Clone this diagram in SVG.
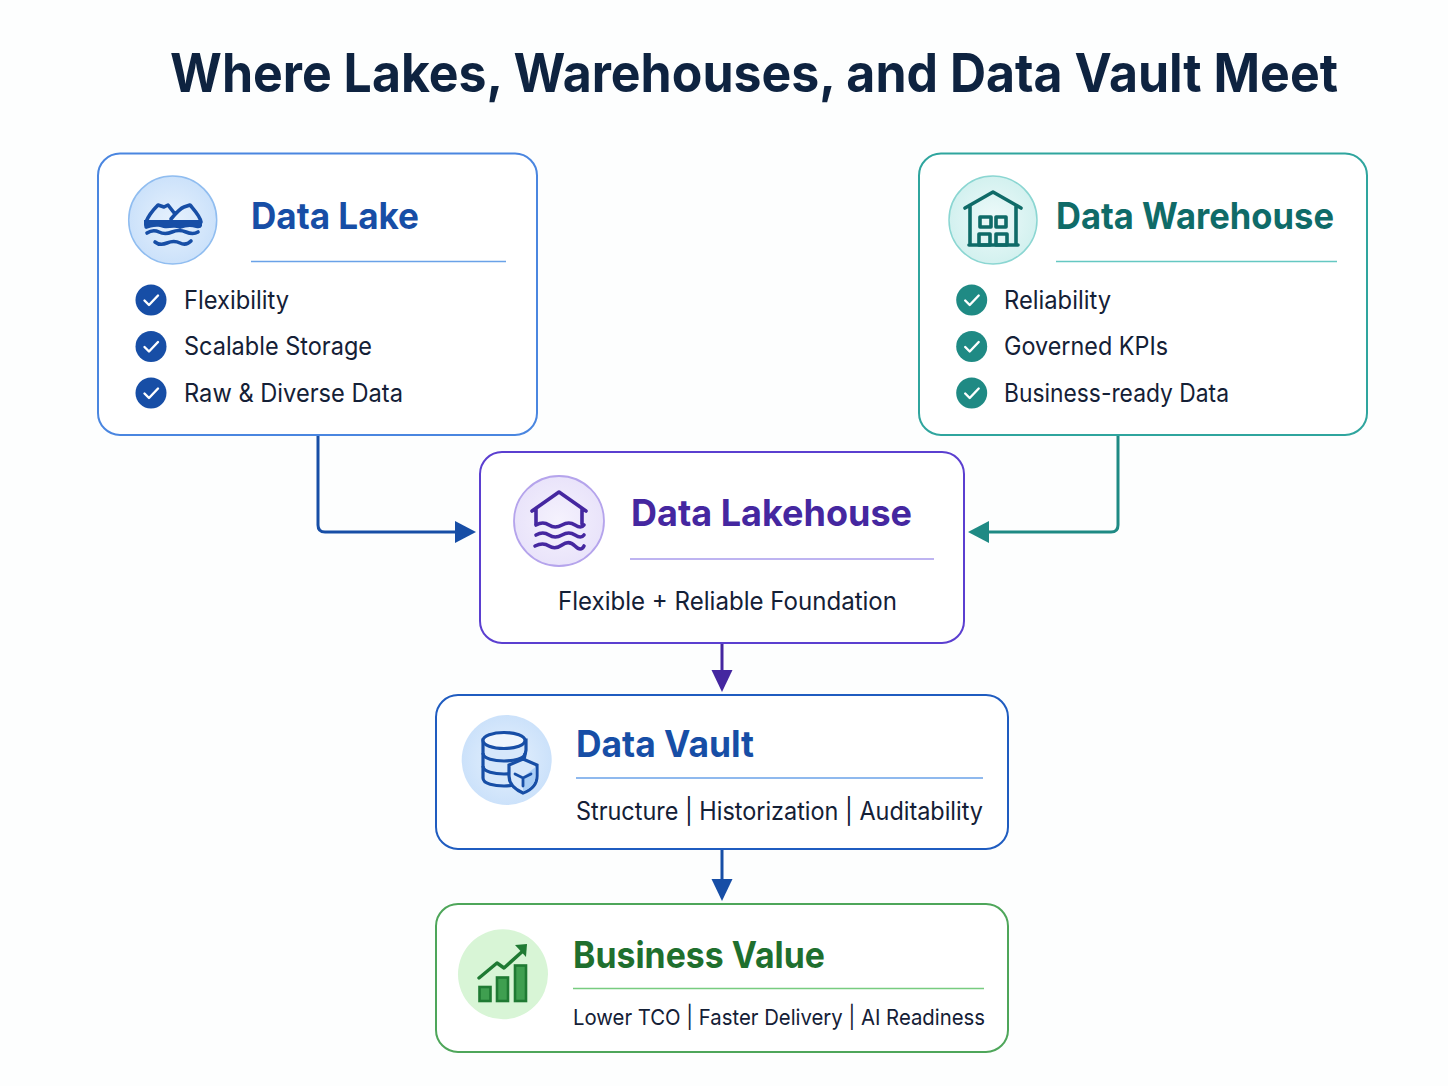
<svg xmlns="http://www.w3.org/2000/svg" width="1448" height="1086" viewBox="0 0 1448 1086">
<style>
text{font-family:"Inter","Noto Sans","Liberation Sans",sans-serif}
.title{font-size:54px;font-weight:700;fill:#0e2340}
.h{font-size:37px;font-weight:700}
.b{font-size:25px;font-weight:400;fill:#142036}
.card{fill:#fff;stroke-width:2}
.icon{fill:none;stroke-width:3.600;stroke-linecap:round;stroke-linejoin:round}
.conn{fill:none;stroke-width:3;stroke-linejoin:round}
.tick{fill:none;stroke:#fff;stroke-width:2.400;stroke-linecap:round;stroke-linejoin:round}
</style>
<defs>
<radialGradient id="gb" cx=".5" cy=".5" r=".55"><stop offset="0" stop-color="#e6f1fd"/><stop offset="1" stop-color="#c9e0fa"/></radialGradient>
<radialGradient id="gt" cx=".5" cy=".5" r=".55"><stop offset="0" stop-color="#eefafa"/><stop offset="1" stop-color="#d0f0ee"/></radialGradient>
<radialGradient id="gp" cx=".5" cy=".5" r=".55"><stop offset="0" stop-color="#f5f2fd"/><stop offset="1" stop-color="#e8e2fa"/></radialGradient>
<g id="tk"><path class="tick" d="M-6.500 0.500L-2 5L7 -4.500"/></g>
</defs>
<rect width="1448" height="1086" fill="#fdfefe"/>
<text class="title" x="170" y="92" textLength="1168" lengthAdjust="spacingAndGlyphs">Where Lakes, Warehouses, and Data Vault Meet</text>

<g id="connectors">
<path class="conn" stroke="#174ea6" d="M318 435V525Q318 532 325 532H456"/>
<path fill="#174ea6" d="M455 521L476 532L455 543Z"/>
<path class="conn" stroke="#1f8a84" d="M1118 435V525Q1118 532 1111 532H988"/>
<path fill="#1f8a84" d="M989 521L968 532L989 543Z"/>
<path class="conn" stroke="#4527a0" d="M722 643V671"/>
<path fill="#4527a0" d="M711.500 670H732.500L722 692Z"/>
<path class="conn" stroke="#174ea6" d="M722 849V880"/>
<path fill="#174ea6" d="M711.500 879H732.500L722 901Z"/>
</g>

<g id="data-lake">
<rect class="card" x="98" y="153.500" width="439" height="281.500" rx="22" stroke="#4a86e0"/>
<circle cx="172.700" cy="220" r="44" fill="url(#gb)" stroke="#90bdf0" stroke-width="1.500"/>
<path class="icon" stroke="#174ea6" d="M146 222C149 214 154 209 158 205L164 207L168 205L175 214M171 219C176 213 181 208 184 207L190 205C195 211 200 216 201 222"/>
<path fill="#174ea6" d="M144 220H202V226Q201 229 196 228C190 226 186 227 180 229C172 226 168 230 160 227C154 226 150 228 146 229Q144 228 144 225Z"/>
<path class="icon" stroke="#174ea6" d="M147 233Q153 229 159 232T172 232T186 232T198 232"/>
<path class="icon" stroke="#174ea6" stroke-width="4" d="M155 242Q160 246 167 243T180 243T191 241"/>
<text class="h" x="251" y="229" fill="#174ea6" textLength="168" lengthAdjust="spacingAndGlyphs">Data Lake</text>
<path d="M251 261.500H506" stroke="#6aa2e8" stroke-width="1.600"/>
<circle cx="151" cy="300" r="15.500" fill="#174ea6"/><use href="#tk" x="151" y="300"/>
<text class="b" x="184" y="308.500" textLength="105" lengthAdjust="spacingAndGlyphs">Flexibility</text>
<circle cx="151" cy="346.500" r="15.500" fill="#174ea6"/><use href="#tk" x="151" y="346.500"/>
<text class="b" x="184" y="355" textLength="188" lengthAdjust="spacingAndGlyphs">Scalable Storage</text>
<circle cx="151" cy="393" r="15.500" fill="#174ea6"/><use href="#tk" x="151" y="393"/>
<text class="b" x="184" y="401.500" textLength="219" lengthAdjust="spacingAndGlyphs">Raw &amp; Diverse Data</text>
</g>

<g id="data-warehouse">
<rect class="card" x="919" y="153.500" width="448" height="281.500" rx="22" stroke="#2fa59e"/>
<circle cx="993" cy="220" r="44" fill="url(#gt)" stroke="#8bd6d2" stroke-width="1.500"/>
<path class="icon" stroke="#0f6b68" d="M965 208L993 192L1021 208M970 205V245M1016 205V245M969 245H1018"/>
<path class="icon" stroke="#0f6b68" stroke-width="3" d="M980 217H991V227H980ZM996 217H1006V227H996ZM979 234H990V245H979ZM996 234H1007V245H996Z"/>
<text class="h" x="1056" y="229" fill="#0f6b68" textLength="278" lengthAdjust="spacingAndGlyphs">Data Warehouse</text>
<path d="M1056 261.500H1337" stroke="#65c8c2" stroke-width="1.600"/>
<circle cx="971.700" cy="300" r="15.500" fill="#1f8a84"/><use href="#tk" x="971.700" y="300"/>
<text class="b" x="1004" y="308.500" textLength="107" lengthAdjust="spacingAndGlyphs">Reliability</text>
<circle cx="971.700" cy="346.500" r="15.500" fill="#1f8a84"/><use href="#tk" x="971.700" y="346.500"/>
<text class="b" x="1004" y="355" textLength="164" lengthAdjust="spacingAndGlyphs">Governed KPIs</text>
<circle cx="971.700" cy="393" r="15.500" fill="#1f8a84"/><use href="#tk" x="971.700" y="393"/>
<text class="b" x="1004" y="401.500" textLength="225" lengthAdjust="spacingAndGlyphs">Business-ready Data</text>
</g>

<g id="data-lakehouse">
<rect class="card" x="480" y="452" width="484" height="191" rx="22" stroke="#5b3fd0"/>
<circle cx="559" cy="521" r="45" fill="url(#gp)" stroke="#b5a4ec" stroke-width="1.800"/>
<path class="icon" stroke="#4527a0" d="M532 511L559 492L586 511M536 509V524M582 509V524"/>
<path class="icon" stroke="#4527a0" d="M536 525Q543 521 549 525T562 525T575 525T584 525"/>
<path class="icon" stroke="#4527a0" d="M536 535Q543 531 549 535T562 535T575 535T584 535"/>
<path class="icon" stroke="#4527a0" stroke-width="4" d="M535 546Q543 542 549 546T562 545T575 546T584 546"/>
<text class="h" x="631" y="526" fill="#4527a0" textLength="281" lengthAdjust="spacingAndGlyphs">Data Lakehouse</text>
<path d="M630 559H934" stroke="#a99bec" stroke-width="1.600"/>
<text class="b" x="558" y="610" textLength="339" lengthAdjust="spacingAndGlyphs">Flexible + Reliable Foundation</text>
</g>

<g id="data-vault">
<rect class="card" x="436" y="695" width="572" height="154" rx="22" stroke="#1f5cc0"/>
<circle cx="506.700" cy="760" r="45" fill="url(#gb)"/>
<g stroke="#174ea6" stroke-width="3.200" fill="#d6e7fb">
<path d="M483 740V778C483 784 495 786 504 786C510 786 515 785 519 784L526 750V740Z"/>
<ellipse cx="504" cy="740.500" rx="21" ry="8" fill="#eef5fd"/>
<path fill="none" d="M483 753C483 759 495 761 504 761C513 761 525 759 525 753M483 766C483 772 495 774 504 774C507 774 509 774 511 773"/>
<path d="M523 759L537 765V776C537 785 531 790 523 793C516 790 509 785 509 776V765Z"/>
</g>
<path fill="#a8cdf5" d="M523 777L535.500 767V776C535.500 784 530 788.500 523 791.500Z"/>
<path d="M515 774L523 778L531 774M523 778V786" fill="none" stroke="#174ea6" stroke-width="2.800" stroke-linecap="round"/>
<text class="h" x="576" y="757" fill="#174ea6" textLength="178" lengthAdjust="spacingAndGlyphs">Data Vault</text>
<path d="M576 778H983" stroke="#6aa2e8" stroke-width="1.600"/>
<text class="b" x="576" y="820" textLength="407" lengthAdjust="spacingAndGlyphs">Structure | Historization | Auditability</text>
</g>

<g id="business-value">
<rect class="card" x="436" y="904" width="572" height="148" rx="22" stroke="#4ea65a"/>
<circle cx="503" cy="974.300" r="45" fill="#d8f5d6"/>
<path d="M479 978L497 963L504 968L524 950" fill="none" stroke="#1f7a33" stroke-width="3.400" stroke-linecap="round" stroke-linejoin="round"/>
<path fill="#1f7a33" d="M515 945L527 944L526 957Z"/>
<rect x="479.500" y="987" width="11" height="14" fill="#3f9f50" stroke="#1f7a33" stroke-width="2.600"/>
<rect x="497" y="977.500" width="11" height="23.500" fill="#3f9f50" stroke="#1f7a33" stroke-width="2.600"/>
<rect x="515" y="965.500" width="11" height="35.500" fill="#3f9f50" stroke="#1f7a33" stroke-width="2.600"/>
<text class="h" x="573" y="968" fill="#1f6f2e" textLength="252" lengthAdjust="spacingAndGlyphs">Business Value</text>
<path d="M573 988.500H984" stroke="#78cc80" stroke-width="1.600"/>
<text class="b" x="573" y="1025" style="font-size:22px" textLength="412" lengthAdjust="spacingAndGlyphs">Lower TCO | Faster Delivery | AI Readiness</text>
</g>
</svg>
